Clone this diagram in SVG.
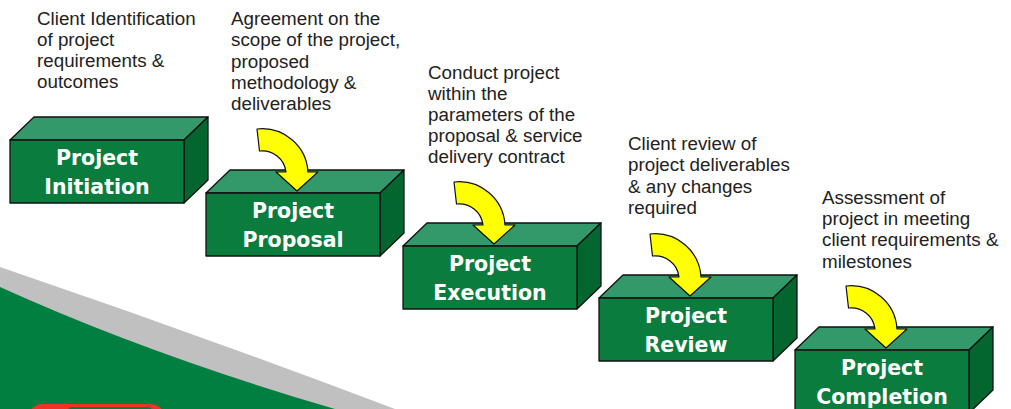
<svg xmlns="http://www.w3.org/2000/svg" width="1011" height="409" viewBox="0 0 1011 409">
<style>
.front{fill:#0a7d3e;stroke:#111;stroke-width:1.3;stroke-linejoin:round}
.top{fill:#33996a;stroke:#111;stroke-width:1.3;stroke-linejoin:round}
.side{fill:#04662f;stroke:#111;stroke-width:1.3;stroke-linejoin:round}
.lbl{font-family:"DejaVu Sans",sans-serif;font-weight:bold;font-size:20.5px;fill:#fff;text-anchor:middle}
.note{font-family:"Liberation Sans",Arial,sans-serif;font-size:18.8px;fill:#222}
.arrow{fill:#ffff00;stroke:#111;stroke-width:1.2;stroke-linejoin:round}
</style>
<defs>
<g id="box">
<polygon class="top" points="0,0 24,-23 198,-23 174,0"/>
<polygon class="side" points="174,0 198,-23 198,40 174,63"/>
<rect class="front" x="0" y="0" width="174" height="63"/>
</g>
<path id="arr" class="arrow" d="M51,-64 A46,46 0 0 1 102,-21 L112,-21 L91,-2 L70,-21 L80,-21 A24,24 0 0 0 53.5,-42 Z"/>
</defs>
<g id="background">
<path d="M0,267 Q200,335 395,409 L0,409 Z" fill="#c0c0c0"/>
<path d="M0,287 Q150,355 335,409 L0,409 Z" fill="#008040"/>
<rect x="30" y="404" width="133" height="20" rx="12" fill="#ee3524"/>
<rect x="68" y="407" width="84" height="10" rx="4" fill="#008040"/>
</g>
<g id="notes">
<text class="note"><tspan x="37" y="25">Client Identification</tspan><tspan x="37" y="46">of project</tspan><tspan x="37" y="67">requirements &amp;</tspan><tspan x="37" y="88">outcomes</tspan></text>
<text class="note"><tspan x="231" y="25">Agreement on the</tspan><tspan x="231" y="46">scope of the project,</tspan><tspan x="231" y="67.5">proposed</tspan><tspan x="231" y="88.5">methodology &amp;</tspan><tspan x="231" y="110">deliverables</tspan></text>
<text class="note"><tspan x="428" y="79">Conduct project</tspan><tspan x="428" y="100">within the</tspan><tspan x="428" y="121">parameters of the</tspan><tspan x="428" y="142">proposal &amp; service</tspan><tspan x="428" y="163">delivery contract</tspan></text>
<text class="note"><tspan x="628" y="150">Client review of</tspan><tspan x="628" y="171">project deliverables</tspan><tspan x="628" y="192.5">&amp; any changes</tspan><tspan x="628" y="214">required</tspan></text>
<text class="note"><tspan x="822" y="204">Assessment of</tspan><tspan x="822" y="225">project in meeting</tspan><tspan x="822" y="246">client requirements &amp;</tspan><tspan x="822" y="267.5">milestones</tspan></text>
</g>
<g id="node-initiation" transform="translate(10,140)">
<use href="#box"/>
<text class="lbl" x="87" y="25">Project</text>
<text class="lbl" x="87" y="53.5">Initiation</text>
</g>
<g id="node-proposal" transform="translate(206,193)">
<use href="#box"/>
<text class="lbl" x="87" y="25">Project</text>
<text class="lbl" x="87" y="53.5">Proposal</text>
</g>
<g id="node-execution" transform="translate(403,246)">
<use href="#box"/>
<text class="lbl" x="87" y="25">Project</text>
<text class="lbl" x="87" y="53.5">Execution</text>
</g>
<g id="node-review" transform="translate(599,298)">
<use href="#box"/>
<text class="lbl" x="87" y="25">Project</text>
<text class="lbl" x="87" y="53.5">Review</text>
</g>
<g id="node-completion" transform="translate(795,350)">
<use href="#box"/>
<text class="lbl" x="87" y="25">Project</text>
<text class="lbl" x="87" y="53.5">Completion</text>
</g>
<g id="connectors">
<use href="#arr" transform="translate(206,193)"/>
<use href="#arr" transform="translate(403,246)"/>
<use href="#arr" transform="translate(599,298)"/>
<use href="#arr" transform="translate(795,350)"/>
</g>
</svg>
